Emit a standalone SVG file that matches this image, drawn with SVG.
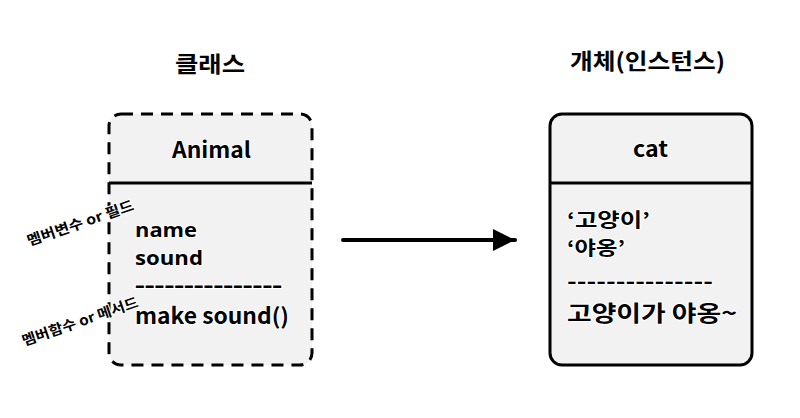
<svg xmlns="http://www.w3.org/2000/svg" width="800" height="418" viewBox="0 0 800 418">
<defs>
<style>
.t{font-family:"Noto Sans CJK KR","Noto Sans",sans-serif;font-weight:bold;fill:#000;paint-order:stroke;stroke:#fff;stroke-width:2px;stroke-linejoin:round}
.b{font-size:22px}
.h{font-size:22px}
.l{font-family:"Open Sans","Noto Sans",sans-serif;font-size:20px}
.k{font-size:19px}
.s{font-size:14px}
.box{fill:#f2f2f2;stroke:#000;stroke-width:3}
.dash{stroke-dasharray:12 8}
.div{stroke:#000;stroke-width:3}
</style>
<marker id="ah" viewBox="0 0 10 10" refX="10" refY="5" markerWidth="22" markerHeight="22" markerUnits="userSpaceOnUse" orient="auto">
<path d="M0,0 L10,5 L0,10 z" fill="#000"/>
</marker>
</defs>
<rect width="800" height="418" fill="#fff"/>
<text class="t h" x="175" y="72" textLength="70" lengthAdjust="spacingAndGlyphs">클래스</text>
<text class="t h" x="570" y="69" textLength="155" lengthAdjust="spacingAndGlyphs">개체(인스턴스)</text>
<g id="animal">
<rect class="box dash" x="109" y="114" width="203" height="251" rx="12"/>
<line class="div" x1="109" y1="183" x2="312" y2="183"/>
<text class="t b" x="172" y="158" textLength="79" lengthAdjust="spacingAndGlyphs">Animal</text>
<text class="t l" x="135" y="237" textLength="62" lengthAdjust="spacingAndGlyphs">name</text>
<text class="t l" x="135" y="265" textLength="68" lengthAdjust="spacingAndGlyphs">sound</text>
<text class="t l" x="135" y="292" textLength="147" lengthAdjust="spacingAndGlyphs">---------------</text>
<text class="t b" x="135" y="324" textLength="154" lengthAdjust="spacingAndGlyphs">make sound()</text>
</g>
<g id="cat">
<rect class="box" x="550" y="114" width="202" height="251" rx="12"/>
<line class="div" x1="550" y1="183" x2="752" y2="183"/>
<text class="t b" x="633" y="157" textLength="35" lengthAdjust="spacingAndGlyphs">cat</text>
<text class="t k" x="567" y="227" textLength="83" lengthAdjust="spacingAndGlyphs">‘고양이’</text>
<text class="t k" x="567" y="255" textLength="58" lengthAdjust="spacingAndGlyphs">‘야옹’</text>
<text class="t b" x="567" y="289" textLength="146" lengthAdjust="spacingAndGlyphs">---------------</text>
<text class="t b" x="567" y="321" textLength="170" lengthAdjust="spacingAndGlyphs">고양이가 야옹~</text>
</g>
<g id="labels">
<text class="t s" transform="translate(29,246) rotate(-19)" textLength="112" lengthAdjust="spacingAndGlyphs">멤버변수 or 필드</text>
<text class="t s" transform="translate(24,346) rotate(-19)" textLength="122" lengthAdjust="spacingAndGlyphs">멤버함수 or 메서드</text>
</g>
<g id="connectors">
<line x1="343" y1="240" x2="515" y2="240" stroke="#000" stroke-width="4" stroke-linecap="round" marker-end="url(#ah)"/>
</g>
</svg>
